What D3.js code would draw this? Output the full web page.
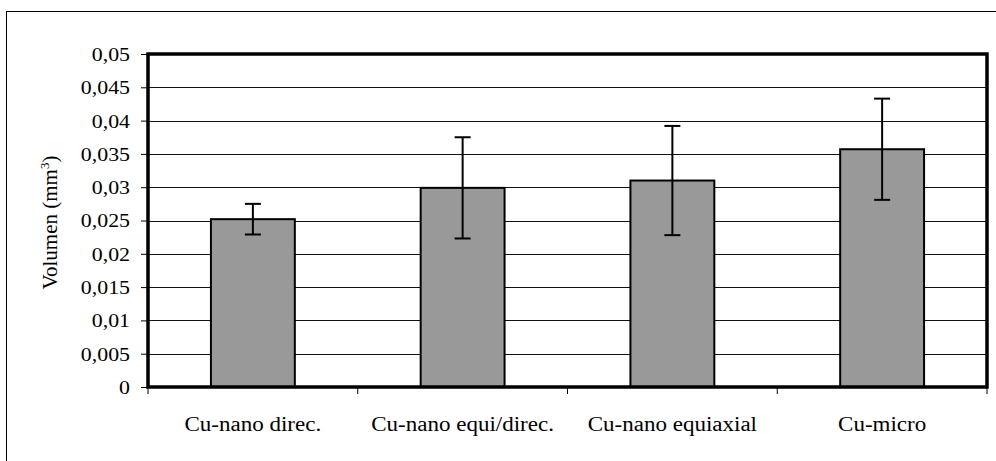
<!DOCTYPE html>
<html><head><meta charset="utf-8">
<script src="https://cdn.jsdelivr.net/npm/d3@7"></script>
<style>body{margin:0;background:#fff}svg{display:block}</style>
</head><body>
<svg id="c" width="996" height="461"></svg>
<script>
const categories = ["Cu-nano direc.", "Cu-nano equi/direc.", "Cu-nano equiaxial", "Cu-micro"];
const values = [0.0252, 0.0299, 0.0310, 0.0357];
const errors = [0.0023, 0.0076, 0.0082, 0.0076];
const yTicks = [0, 0.005, 0.01, 0.015, 0.02, 0.025, 0.03, 0.035, 0.04, 0.045, 0.05];
const yLabel = "Volumen (mm";

const FONT = "'Liberation Serif', 'Times New Roman', serif";
const SX = 1.15; // horizontal stretch of the original's text
const stretch = sel => sel.each(function () {
  const w = this.getComputedTextLength();
  d3.select(this).attr("textLength", w * SX).attr("lengthAdjust", "spacingAndGlyphs");
});

const svg = d3.select("#c");
const L = 148, R = 987, T = 54, B = 387;
svg.append("rect").attr("x", 6.5).attr("y", 11.5).attr("width", 1200).attr("height", 600)
  .attr("fill", "none").attr("stroke", "#000").attr("stroke-width", 1);

const x = d3.scaleBand().domain(categories).range([L, R]).paddingInner(0.6).paddingOuter(0.3);
const y = d3.scaleLinear().domain([0, 0.05]).range([B, T]);
const fmt = d => d === 0 ? "0" : String(+d.toFixed(3)).replace(".", ",");

// gridlines
svg.append("g").selectAll("line").data(yTicks.filter(d => d > 0 && d < 0.05)).join("line")
  .attr("x1", L).attr("x2", R).attr("y1", d => Math.round(y(d)) + 0.5).attr("y2", d => Math.round(y(d)) + 0.5)
  .attr("stroke", "#111").attr("stroke-width", 1);

// y axis
const ya = svg.append("g").attr("transform", `translate(${L},0)`)
  .call(d3.axisLeft(y).tickValues(yTicks).tickFormat(fmt).tickSize(7).tickPadding(11));
ya.attr("font-family", null).attr("font-size", null);
ya.select(".domain").remove();
ya.selectAll(".tick line").attr("stroke", "#000");
ya.selectAll("text").style("font-size", "19px").style("font-family", FONT).attr("fill", "#000")
  .attr("dy", "0.34em").call(stretch);

// x axis ticks at band boundaries
const bounds = categories.map(c => x(c) - x.step() * x.paddingInner() / 2);
bounds[0] = L; bounds.push(R);
svg.append("g").selectAll("line").data(bounds).join("line")
  .attr("x1", d => d).attr("x2", d => d).attr("y1", B).attr("y2", B + 7).attr("stroke", "#000");
svg.append("g").selectAll("text").data(categories).join("text")
  .attr("x", d => x(d) + x.bandwidth() / 2).attr("y", 431).attr("text-anchor", "middle")
  .style("font-size", "20px").style("font-family", FONT).text(d => d).call(stretch);

// bars
svg.append("g").selectAll("rect").data(values).join("rect")
  .attr("x", (d, i) => x(categories[i])).attr("y", d => y(d))
  .attr("width", x.bandwidth()).attr("height", d => B - y(d))
  .attr("fill", "#999999").attr("stroke", "#000").attr("stroke-width", 2);

// error bars
const eg = svg.append("g").attr("stroke", "#000").attr("stroke-width", 2);
values.forEach((v, i) => {
  const cx = x(categories[i]) + x.bandwidth() / 2;
  eg.append("line").attr("x1", cx).attr("x2", cx).attr("y1", y(v + errors[i])).attr("y2", y(v - errors[i]));
  eg.append("line").attr("x1", cx - 8).attr("x2", cx + 8).attr("y1", y(v + errors[i])).attr("y2", y(v + errors[i]));
  eg.append("line").attr("x1", cx - 8).attr("x2", cx + 8).attr("y1", y(v - errors[i])).attr("y2", y(v - errors[i]));
});

// plot frame
svg.append("rect").attr("x", L).attr("y", T).attr("width", R - L).attr("height", B - T)
  .attr("fill", "none").attr("stroke", "#000").attr("stroke-width", 3.5);

// y label
const yl = svg.append("text").attr("transform", `translate(57,${(T + B) / 2 + 2}) rotate(-90)`)
  .attr("text-anchor", "middle").style("font-size", "21px").style("font-family", FONT);
yl.append("tspan").text(yLabel);
yl.append("tspan").attr("dy", -8).style("font-size", "13px").text("3");
yl.append("tspan").attr("dy", 8).text(")");
</script>
</body></html>
